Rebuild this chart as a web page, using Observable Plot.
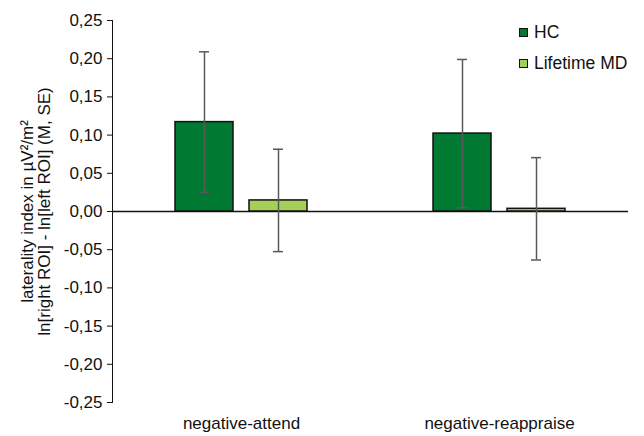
<!DOCTYPE html>
<html>
<head>
<meta charset="utf-8">
<script src="https://cdn.jsdelivr.net/npm/d3@7"></script>
<script src="https://cdn.jsdelivr.net/npm/@observablehq/plot@0.6"></script>
<style>
  body { margin: 0; background: #fff; }
  #wrap { position: relative; width: 644px; height: 436px; font-family: "Liberation Sans", Arial, sans-serif; }
  #legend { position: absolute; left: 519px; top: 22px; font-size: 17.5px; color: #111; }
  #legend .item { display: flex; align-items: center; height: 20px; margin-bottom: 11px; }
  #legend .sw { width: 7px; height: 7px; border: 1.5px solid #111; margin-right: 6px; }
</style>
</head>
<body>
<div id="wrap"></div>
<script>
const conditions = ["negative-attend", "negative-reappraise"];
const groups = ["HC", "Lifetime MD"];
const colors = ["#007A33", "#A6CF5A"];
const meansHC = [0.117, 0.102];
const seHC = [0.092, 0.097];
const meansMD = [0.0145, 0.0035];
const seMD = [0.067, 0.067];
const yTicks = [-0.25, -0.20, -0.15, -0.10, -0.05, 0, 0.05, 0.10, 0.15, 0.20, 0.25];

const data = [];
conditions.forEach((c, i) => {
  data.push({cond: c, group: groups[0], mean: meansHC[i], se: seHC[i]});
  data.push({cond: c, group: groups[1], mean: meansMD[i], se: seMD[i]});
});

const fmt = d3.format(".2f");
const tickFmt = d => fmt(d).replace("−", "-").replace(".", ",");

const chart = Plot.plot({
  width: 644,
  height: 436,
  marginLeft: 112,
  marginRight: 16,
  marginTop: 20,
  marginBottom: 34,
  style: {fontFamily: "Liberation Sans, Arial, sans-serif", fontSize: "17px", color: "#111", background: "#fff"},
  fx: {domain: conditions, padding: 0, label: null, axis: "bottom", tickSize: 0, tickPadding: 14},
  x: {domain: groups, axis: null, paddingInner: 0.216, paddingOuter: 0.85},
  y: {
    domain: [-0.25, 0.25],
    ticks: yTicks,
    tickFormat: tickFmt,
    tickSize: 5,
    tickPadding: 5,
    line: true,
    label: "laterality index in µV²/m²\nln[right ROI] - ln[left ROI] (M, SE)",
    labelAnchor: "center",
    labelArrow: "none",
    labelOffset: 92
  },
  color: {domain: groups, range: colors},
  marks: [
    Plot.ruleY([0], {stroke: "#111", strokeWidth: 1.5}),
    Plot.barY(data, {fx: "cond", x: "group", y: "mean", fill: "group", stroke: "#111", strokeWidth: 1.5}),
    Plot.ruleX(data, {fx: "cond", x: "group", y1: d => d.mean - d.se, y2: d => d.mean + d.se, stroke: "#595959", strokeWidth: 1.5}),
    Plot.tickY(data, {fx: "cond", x: "group", y: d => d.mean + d.se, stroke: "#595959", strokeWidth: 1.5, insetLeft: 24, insetRight: 24}),
    Plot.tickY(data, {fx: "cond", x: "group", y: d => d.mean - d.se, stroke: "#595959", strokeWidth: 1.5, insetLeft: 24, insetRight: 24})
  ]
});

const wrap = document.getElementById("wrap");
wrap.appendChild(chart);

const legend = document.createElement("div");
legend.id = "legend";
groups.forEach((g, i) => {
  const item = document.createElement("div");
  item.className = "item";
  const sw = document.createElement("span");
  sw.className = "sw";
  sw.style.background = colors[i];
  const t = document.createElement("span");
  t.textContent = g;
  item.appendChild(sw);
  item.appendChild(t);
  legend.appendChild(item);
});
wrap.appendChild(legend);
</script>
</body>
</html>
